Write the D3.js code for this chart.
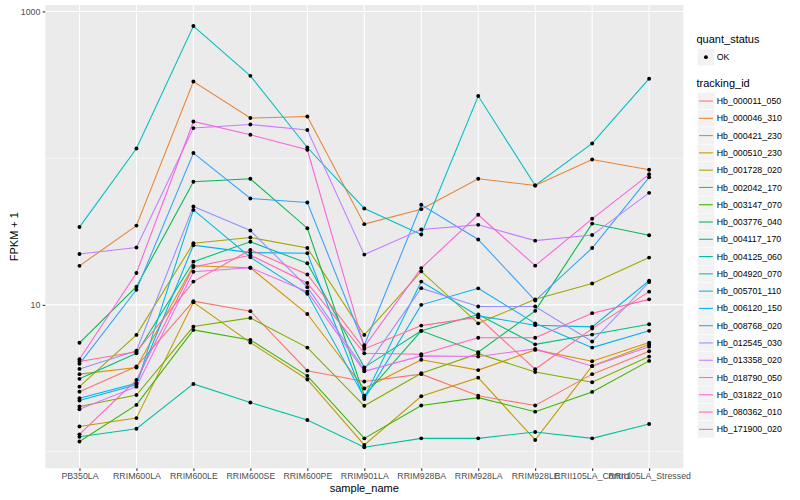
<!DOCTYPE html>
<html>
<head>
<meta charset="utf-8">
<script src="https://cdn.jsdelivr.net/npm/d3@7"></script>
<style>
  html, body { margin: 0; padding: 0; background: #ffffff; }
  svg { display: block; font-family: "Liberation Sans", Arial, Helvetica, sans-serif; }
</style>
</head>
<body>
<svg id="chart" width="800" height="500"></svg>
<script>
// ---------------- data (FPKM + 1) ----------------
const samples = ["PB350LA","RRIM600LA","RRIM600LE","RRIM600SE","RRIM600PE","RRIM901LA",
                 "RRIM928BA","RRIM928LA","RRIM928LE","RRII105LA_Control","RRII105LA_Stressed"];

const trackingIds = ["Hb_000011_050","Hb_000046_310","Hb_000421_230","Hb_000510_230","Hb_001728_020",
  "Hb_002042_170","Hb_003147_070","Hb_003776_040","Hb_004117_170","Hb_004125_060","Hb_004920_070",
  "Hb_005701_110","Hb_006120_150","Hb_008768_020","Hb_012545_030","Hb_013358_020","Hb_018790_050",
  "Hb_031822_010","Hb_080362_010","Hb_171900_020"];

const Hb_000011_050 = [2.56, 3.80, 10.6, 9.06, 3.56, 3.00, 3.37, 2.40, 2.06, 3.37, 4.83];
const Hb_000046_310 = [18.45, 34.7, 333, 187.6, 192.3, 35.5, 44.9, 72.3, 65.1, 97.9, 83.3];
const Hb_000421_230 = [3.37, 3.74, 18.45, 17.9, 8.66, 2.69, 4.22, 3.59, 4.93, 4.13, 5.53];
const Hb_000510_230 = [1.48, 1.69, 10.4, 5.53, 3.10, 1.11, 2.38, 3.19, 1.20, 3.84, 5.36];
const Hb_001728_020 = [2.77, 6.24, 26.3, 28.8, 24.4, 6.24, 16.9, 7.48, 10.9, 13.97, 21.0];
const Hb_002042_170 = [2.03, 2.43, 7.11, 8.15, 5.11, 2.05, 3.42, 4.65, 3.48, 2.97, 4.44];
const Hb_003147_070 = [1.17, 2.08, 6.75, 5.77, 3.28, 1.23, 2.06, 2.33, 1.87, 2.55, 4.15];
const Hb_003776_040 = [5.51, 13.3, 69.0, 72.3, 33.3, 2.40, 6.65, 4.76, 9.10, 35.8, 29.8];
const Hb_004117_170 = [3.13, 4.68, 19.7, 26.9, 19.2, 3.75, 6.65, 8.59, 5.38, 6.27, 7.38];
const Hb_004125_060 = [1.26, 1.43, 2.89, 2.16, 1.64, 1.07, 1.23, 1.23, 1.36, 1.23, 1.54];
const Hb_004920_070 = [33.9, 116.4, 795, 364, 118.2, 45.4, 30.2, 265, 65.1, 125.9, 348];
const Hb_005701_110 = [2.23, 2.85, 44.4, 21.1, 11.9, 2.34, 14.4, 8.41, 7.27, 7.08, 14.6];
const Hb_006120_150 = [2.31, 2.92, 25.5, 22.7, 22.5, 2.28, 10.0, 12.96, 7.48, 5.11, 6.65];
const Hb_008768_020 = [3.96, 12.66, 108.3, 53.1, 49.8, 5.30, 48.1, 27.9, 10.70, 24.4, 74.0];
const Hb_012545_030 = [3.66, 4.86, 46.8, 32.1, 13.2, 3.64, 13.0, 9.74, 9.74, 5.62, 14.3];
const Hb_013358_020 = [22.2, 24.6, 160.3, 169.6, 155.4, 22.0, 32.6, 35.1, 27.4, 29.9, 58.0];
const Hb_018790_050 = [1.94, 2.77, 16.8, 17.9, 12.3, 3.52, 4.49, 4.44, 5.01, 3.82, 5.19];
const Hb_031822_010 = [4.26, 16.5, 177.8, 144.3, 114.0, 5.17, 17.8, 41.1, 18.5, 38.6, 77.6];
const Hb_080362_010 = [1.31, 3.08, 18.1, 21.8, 14.1, 4.68, 4.61, 5.96, 5.96, 8.78, 10.9];
const Hb_171900_020 = [4.11, 4.78, 14.4, 23.7, 16.1, 5.01, 7.22, 8.24, 3.64, 6.89, 12.3];

const seriesValues = [Hb_000011_050, Hb_000046_310, Hb_000421_230, Hb_000510_230, Hb_001728_020,
  Hb_002042_170, Hb_003147_070, Hb_003776_040, Hb_004117_170, Hb_004125_060, Hb_004920_070,
  Hb_005701_110, Hb_006120_150, Hb_008768_020, Hb_012545_030, Hb_013358_020, Hb_018790_050,
  Hb_031822_010, Hb_080362_010, Hb_171900_020];

const palette = ["#F8766D","#EA8331","#D89000","#C09B00","#A3A500","#7CAE00","#39B600","#00BB4E",
  "#00BF7D","#00C1A3","#00BFC4","#00BAE0","#00B0F6","#35A2FF","#9590FF","#C77CFF","#E76BF3",
  "#FA62DB","#FF62BC","#FF6C91"];

const yMajorTicks = [10, 1000];
const yMinorTicks = [1, 100];
const quantLevels = ["OK"];

// ---------------- layout ----------------
const panel = { left: 45.3, right: 683.3, top: 5, bottom: 468.3 };
const svg = d3.select("#chart");
svg.append("rect").attr("width", 800).attr("height", 500).attr("fill", "#ffffff");

const series = trackingIds.map((id, i) => ({ id, color: palette[i], values: seriesValues[i] }));

const x = d3.scalePoint().domain(samples).range([panel.left, panel.right]).padding(0.6);

const allVals = seriesValues.flat();
const lmin = Math.log10(d3.min(allVals)), lmax = Math.log10(d3.max(allVals));
const ex = (lmax - lmin) * 0.05;
const y = d3.scaleLog().domain([Math.pow(10, lmin - ex), Math.pow(10, lmax + ex)])
  .range([panel.bottom, panel.top]);

// panel background
svg.append("rect")
  .attr("x", panel.left).attr("y", panel.top)
  .attr("width", panel.right - panel.left).attr("height", panel.bottom - panel.top)
  .attr("fill", "#EBEBEB");

const grid = svg.append("g");
grid.selectAll(".ymin").data(yMinorTicks).join("line")
  .attr("x1", panel.left).attr("x2", panel.right)
  .attr("y1", d => y(d)).attr("y2", d => y(d))
  .attr("stroke", "#ffffff").attr("stroke-width", 0.53);
grid.selectAll(".ymaj").data(yMajorTicks).join("line")
  .attr("x1", panel.left).attr("x2", panel.right)
  .attr("y1", d => y(d)).attr("y2", d => y(d))
  .attr("stroke", "#ffffff").attr("stroke-width", 1.07);
grid.selectAll(".xmaj").data(samples).join("line")
  .attr("x1", d => x(d)).attr("x2", d => x(d))
  .attr("y1", panel.top).attr("y2", panel.bottom)
  .attr("stroke", "#ffffff").attr("stroke-width", 1.07);

// lines
const line = d3.line().x((d, i) => x(samples[i])).y(d => y(d));
svg.append("g").selectAll("path").data(series).join("path")
  .attr("d", d => line(d.values))
  .attr("fill", "none")
  .attr("stroke", d => d.color)
  .attr("stroke-width", 1.07);

// points
const pts = [];
series.forEach(s => s.values.forEach((v, i) => pts.push({ s: samples[i], v })));
svg.append("g").selectAll("circle").data(pts).join("circle")
  .attr("cx", d => x(d.s)).attr("cy", d => y(d.v))
  .attr("r", 1.95).attr("fill", "#000000");

// axes
const yAxis = svg.append("g")
  .attr("transform", `translate(${panel.left},0)`)
  .call(d3.axisLeft(y).tickValues(yMajorTicks).tickFormat(d3.format("d")).tickSize(2.75).tickPadding(2.2));
const xAxis = svg.append("g")
  .attr("transform", `translate(0,${panel.bottom})`)
  .call(d3.axisBottom(x).tickSize(2.75).tickPadding(2.2));
[xAxis, yAxis].forEach(a => {
  a.select(".domain").remove();
  a.selectAll(".tick line").attr("stroke", "#333333").attr("stroke-width", 1.07);
  a.selectAll(".tick text").attr("fill", "#4D4D4D").style("font-size", "8.8px")
    .style("font-family", "'Liberation Sans', Arial, sans-serif");
});

// axis titles
svg.append("text")
  .attr("x", (panel.left + panel.right) / 2).attr("y", 491.5)
  .attr("text-anchor", "middle").style("font-size", "11px").attr("fill", "#000")
  .text("sample_name");
svg.append("text")
  .attr("transform", `translate(17.5,${(panel.top + panel.bottom) / 2}) rotate(-90)`)
  .attr("text-anchor", "middle").style("font-size", "11px").attr("fill", "#000")
  .text("FPKM + 1");

// legends
const lg = svg.append("g");
const keyX = 697.3, keyS = 17.28;
lg.append("text").attr("x", 696.5).attr("y", 43.3).style("font-size", "11px").text("quant_status");
const qk = lg.selectAll(".qk").data(quantLevels).join("g")
  .attr("transform", (d, i) => `translate(${keyX},${48.5 + i * keyS})`);
qk.append("rect").attr("width", keyS).attr("height", keyS).attr("fill", "#F2F2F2")
  .attr("stroke", "#ffffff").attr("stroke-width", 0.5);
qk.append("circle").attr("cx", keyS / 2).attr("cy", keyS / 2).attr("r", 1.95).attr("fill", "#000");
qk.append("text").attr("x", keyS + 2.2).attr("y", keyS / 2).attr("dy", "0.35em")
  .style("font-size", "8.8px").attr("fill", "#000").text(d => d);

lg.append("text").attr("x", 696.5).attr("y", 87.3).style("font-size", "11px").text("tracking_id");
const tk = lg.selectAll(".tk").data(series).join("g")
  .attr("transform", (d, i) => `translate(${keyX},${92.4 + i * keyS})`);
tk.append("rect").attr("width", keyS).attr("height", keyS).attr("fill", "#F2F2F2")
  .attr("stroke", "#ffffff").attr("stroke-width", 0.5);
tk.append("line").attr("x1", keyS * 0.1).attr("x2", keyS * 0.9)
  .attr("y1", keyS / 2).attr("y2", keyS / 2)
  .attr("stroke", d => d.color).attr("stroke-width", 1.07);
tk.append("text").attr("x", keyS + 2.2).attr("y", keyS / 2).attr("dy", "0.35em")
  .style("font-size", "8.8px").attr("fill", "#000").text(d => d.id);
</script>
</body>
</html>
